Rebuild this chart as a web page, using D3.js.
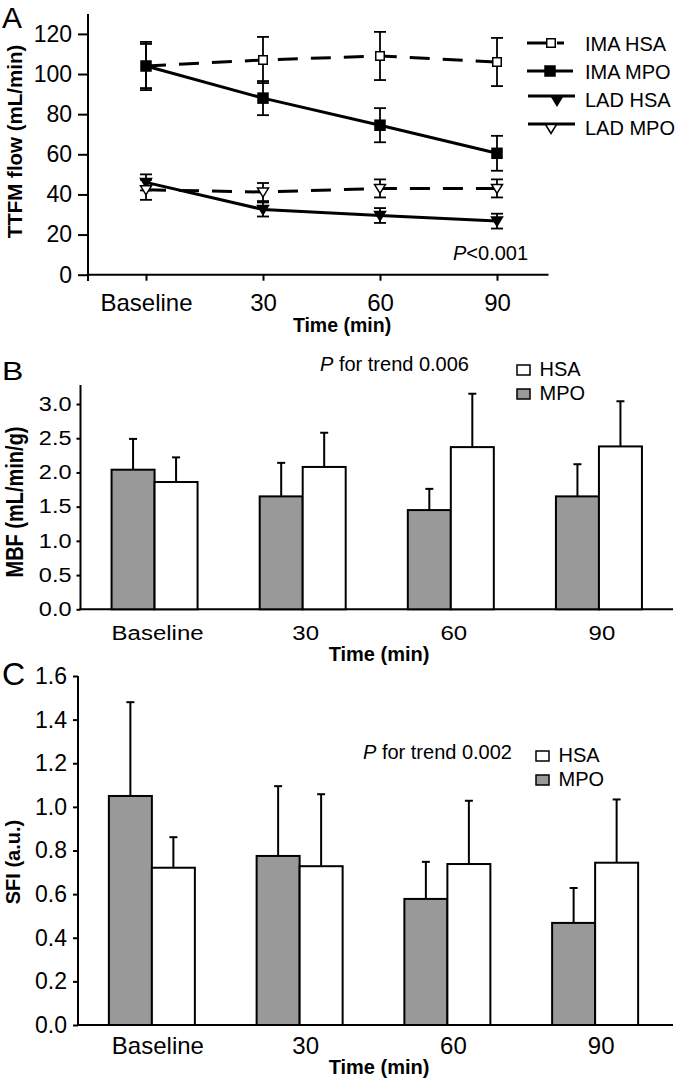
<!DOCTYPE html>
<html><head><meta charset="utf-8">
<script src="https://cdn.jsdelivr.net/npm/d3@7"></script>
<style>body{margin:0;background:#fff} svg{display:block}</style>
</head><body><svg id="c" width="678" height="1083"></svg>
<script>
// ---------- DATA ----------
const timepoints = ["Baseline", "30", "60", "90"];
// Panel A: TTFM flow (mL/min)
const imaHSA = [104, 107, 109, 106];
const imaHSAerr = [12, 11.5, 12, 12];
const imaMPO = [104, 88, 74.5, 60.5];
const imaMPOerr = [11, 8.5, 8.5, 8.7];
const ladHSA = [46, 32.5, 29.5, 26.7];
const ladHSAerr = [4, 3.5, 3.7, 3.7];
const ladMPO = [42.3, 41.2, 43, 43];
const ladMPOerr = [5, 4.5, 4.5, 4.5];
const ticksA = [0, 20, 40, 60, 80, 100, 120];
// Panel B: MBF (mL/min/g)
const mbfMPO = [2.04, 1.65, 1.45, 1.65];
const mbfMPOerr = [0.45, 0.49, 0.31, 0.47];
const mbfHSA = [1.86, 2.08, 2.37, 2.38];
const mbfHSAerr = [0.36, 0.50, 0.78, 0.66];
const ticksB = [0, 0.5, 1, 1.5, 2, 2.5, 3];
// Panel C: SFI (a.u.)
const sfiMPO = [1.05, 0.775, 0.578, 0.468];
const sfiMPOerr = [0.43, 0.32, 0.17, 0.16];
const sfiHSA = [0.721, 0.728, 0.738, 0.744];
const sfiHSAerr = [0.14, 0.33, 0.29, 0.29];
const ticksC = [0, 0.2, 0.4, 0.6, 0.8, 1.0, 1.2, 1.4, 1.6];

// ---------- HELPERS ----------
const FONT = '"Liberation Sans", Arial, Helvetica, sans-serif';
const GRAY = "#999999";
const svg = d3.select("#c");

function label(g, x, y, s, o = {}) {
  const size = o.size || 20, sx = o.sx || 1, sy = o.sy || 1;
  let tr = `translate(${x},${y}) scale(${sx},${sy})`;
  if (o.rotate) tr += ` rotate(${o.rotate})`;
  const t = g.append("text").attr("transform", tr)
    .attr("font-family", FONT).attr("font-size", size)
    .attr("font-weight", o.weight || "normal")
    .attr("text-anchor", o.anchor || "start").attr("fill", "#000");
  if (s != null) t.text(s);
  return t;
}
function vline(g, x, y1, y2, w = 2) {
  g.append("line").attr("x1", x).attr("x2", x).attr("y1", y1).attr("y2", y2)
    .attr("stroke", "#000").attr("stroke-width", w);
}
function hline(g, x1, x2, y, w = 2) {
  g.append("line").attr("x1", x1).attr("x2", x2).attr("y1", y).attr("y2", y)
    .attr("stroke", "#000").attr("stroke-width", w);
}
function styleAxisText(sel, size) {
  sel.selectAll("text").attr("font-family", FONT).attr("font-size", size).attr("fill", "#000");
  sel.selectAll(".tick line").attr("stroke", "#000").attr("stroke-width", 2);
  sel.select(".domain").remove();
}

// ---------- PANEL A ----------
const gA = svg.append("g");
const xA = d3.scaleLinear().domain([0, 3]).range([146, 497]);
const yA = d3.scaleLinear().domain([0, 120]).range([274.7, 33.9]);

const gyA = gA.append("g").attr("transform", "translate(88,0)")
  .call(d3.axisLeft(yA).tickValues(ticksA).tickSize(10).tickPadding(6));
styleAxisText(gyA, 23);
vline(gA, 88, 14, 281);

const gxA = gA.append("g").attr("transform", `translate(0,${yA(0)})`)
  .call(d3.axisBottom(xA).tickValues([0, 1, 2, 3]).tickFormat(i => timepoints[i]).tickSize(6));
styleAxisText(gxA, 24);
gxA.selectAll("text").attr("y", 36.5).attr("dy", 0);
hline(gA, xA(-0.5), xA(3.44), yA(0));

const seriesA = [
  { name: "IMA HSA", vals: imaHSA, err: imaHSAerr, dash: "20,13", marker: "square", fill: "#fff" },
  { name: "IMA MPO", vals: imaMPO, err: imaMPOerr, dash: null, marker: "square", fill: "#000" },
  { name: "LAD HSA", vals: ladHSA, err: ladHSAerr, dash: null, marker: "tri", fill: "#000" },
  { name: "LAD MPO", vals: ladMPO, err: ladMPOerr, dash: "20,13", marker: "tri", fill: "#fff" }
];
const lineGen = d3.line().x((d, i) => xA(i)).y(d => yA(d));
seriesA.forEach(s => {
  gA.append("path").attr("d", lineGen(s.vals)).attr("fill", "none")
    .attr("stroke", "#000").attr("stroke-width", 3)
    .attr("stroke-dasharray", s.dash);
});
seriesA.forEach(s => {
  s.vals.forEach((v, i) => {
    const x = xA(i);
    vline(gA, x, yA(v - s.err[i]), yA(v + s.err[i]), 1.8);
    hline(gA, x - 6, x + 6, yA(v + s.err[i]), 1.8);
    hline(gA, x - 6, x + 6, yA(v - s.err[i]), 1.8);
  });
});
function drawMarker(g, type, fill, x, y) {
  if (type === "square") {
    const sz = fill === "#000" ? 10 : 8.5;
    g.append("rect").attr("x", x - sz / 2).attr("y", y - sz / 2).attr("width", sz).attr("height", sz)
      .attr("fill", fill).attr("stroke", "#000").attr("stroke-width", 1.5);
  } else {
    g.append("path").attr("d", `M${x - 5.5},${y - 4}L${x + 5.5},${y - 4}L${x},${y + 5}Z`)
      .attr("fill", fill).attr("stroke", "#000").attr("stroke-width", 1.5);
  }
}
seriesA.forEach(s => s.vals.forEach((v, i) => drawMarker(gA, s.marker, s.fill, xA(i), yA(v))));

// Legend A
const legA = gA.append("g");
const legRows = [
  { cy: 43, mx: 551 }, { cy: 71, mx: 550 }, { cy: 99, mx: 557 }, { cy: 127, mx: 551 }
];
seriesA.forEach((s, k) => {
  const r = legRows[k];
  if (k === 0) {
    hline(legA, 527, 547, r.cy, 3);
    hline(legA, 557, 564, r.cy, 3);
  } else if (s.marker === "tri") {
    hline(legA, 528, 575, r.cy - 3, 3);
  } else {
    hline(legA, 527, 573, r.cy, 3);
  }
  drawMarker(legA, s.marker, s.fill, r.mx, s.marker === "tri" ? r.cy + 1.5 : r.cy);
  label(legA, 585, r.cy + 7.5, s.name, { size: 20 });
});
const pA = label(gA, 453, 260, null, { size: 20 });
pA.append("tspan").attr("font-style", "italic").text("P");
pA.append("tspan").text("<0.001");

label(gA, 342, 331.5, "Time (min)", { size: 19.5, weight: "bold", anchor: "middle" });
label(gA, 21.5, 141.5, "TTFM flow (mL/min)", { size: 20.5, weight: "bold", anchor: "middle", rotate: -90 });
label(gA, 2, 28, "A", { size: 30 });

// ---------- BAR PANEL ----------
function barPanel(o) {
  const g = svg.append("g");
  const x = d3.scaleBand().domain(timepoints).range(o.xRange);
  const y = d3.scaleLinear().domain(o.yDomain).range(o.yRange);
  const bw = 43;
  const gy = g.append("g").attr("transform", `translate(${o.xRange[0]},0)`)
    .call(d3.axisLeft(y).tickValues(o.ticks).tickFormat(d3.format(".1f")).tickSize(o.tickSize).tickPadding(o.tickPad));
  styleAxisText(gy, o.yFont);
  if (o.sy !== 1) gy.selectAll("text").attr("transform", `scale(1,${o.sy})`);
  vline(g, o.xRange[0], o.axisTop, y(0));
  hline(g, o.xRange[0] - 1, o.axisRight, y(0));

  timepoints.forEach((t, i) => {
    const c = x(t) + x.bandwidth() / 2;
    const groups = [
      { v: o.mpo[i], e: o.mpoErr[i], x0: c - bw, fill: GRAY },
      { v: o.hsa[i], e: o.hsaErr[i], x0: c, fill: "#fff" }
    ];
    groups.forEach(b => {
      const cx = b.x0 + bw / 2;
      vline(g, cx, y(b.v), y(b.v + b.e), 2);
      hline(g, cx - 4, cx + 4, y(b.v + b.e), 2);
      g.append("rect").attr("x", b.x0).attr("y", y(b.v)).attr("width", bw).attr("height", y(0) - y(b.v))
        .attr("fill", b.fill).attr("stroke", "#000").attr("stroke-width", 2);
    });
    label(g, c + o.labDx, o.labY, t, { size: 24, anchor: "middle", sy: o.sy });
  });
  // legend
  [["HSA", "#fff"], ["MPO", GRAY]].forEach((d, k) => {
    const yy = o.leg.y + k * 24;
    g.append("rect").attr("x", o.leg.x).attr("y", yy).attr("width", 13).attr("height", 10)
      .attr("fill", d[1]).attr("stroke", "#000").attr("stroke-width", 1.5);
    label(g, o.leg.x + 22.5, yy + 11, d[0], { size: 20 });
  });
  const p = label(g, o.p.x, o.p.y, null, { size: 20 });
  p.append("tspan").attr("font-style", "italic").text("P");
  p.append("tspan").text(" for trend " + o.p.val);
  label(g, 379, o.timeY, "Time (min)", { size: 20, weight: "bold", anchor: "middle" });
  label(g, o.title.x, o.title.y, o.title.text, { size: 20, weight: "bold", anchor: "middle", rotate: -90, sx: o.title.sx });
  label(g, 2, o.letter.y, o.letter.t, { size: 32, sy: o.sy });
}

barPanel({
  xRange: [80.5, 673], axisRight: 673, yDomain: [0, 3], yRange: [609.3, 404], axisTop: 385,
  ticks: ticksB, tickSize: 4, tickPad: 5, yFont: 23.5, sy: 0.83,
  mpo: mbfMPO, mpoErr: mbfMPOerr, hsa: mbfHSA, hsaErr: mbfHSAerr,
  labY: 640, labDx: 3,
  leg: { x: 517, y: 365 }, p: { x: 320, y: 371, val: "0.006" }, timeY: 661,
  title: { x: 23, y: 502, text: "MBF (mL/min/g)", sx: 1.2 },
  letter: { y: 380, t: "B" }
});

barPanel({
  xRange: [78, 669], axisRight: 673, yDomain: [0, 1.6], yRange: [1025, 676], axisTop: 676,
  ticks: ticksC, tickSize: 5, tickPad: 6, yFont: 23, sy: 1,
  mpo: sfiMPO, mpoErr: sfiMPOerr, hsa: sfiHSA, hsaErr: sfiHSAerr,
  labY: 1054, labDx: 6,
  leg: { x: 536, y: 751 }, p: { x: 363, y: 759, val: "0.002" }, timeY: 1074,
  title: { x: 20, y: 862, text: "SFI (a.u.)", sx: 1 },
  letter: { y: 685, t: "C" }
});
</script>
</body></html>
